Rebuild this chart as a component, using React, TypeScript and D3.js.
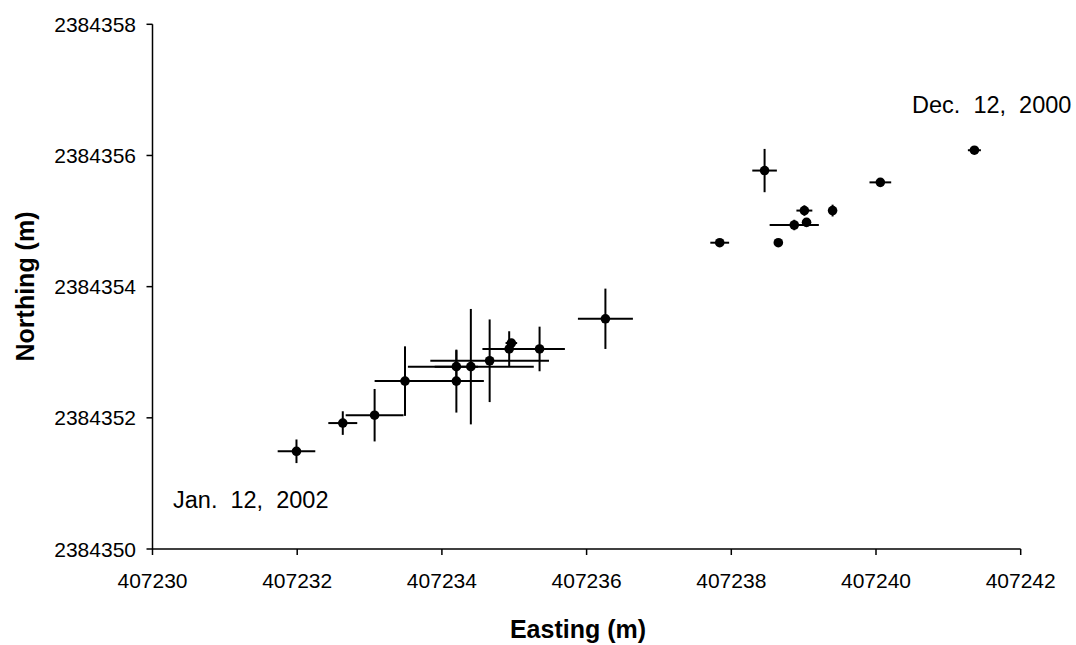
import React from "react";
import * as d3 from "d3";

// GPS positions (m)
const easting = [
  407241.36, 407240.06, 407239.40, 407239.01, 407239.04, 407238.87, 407238.65,
  407237.84, 407238.46, 407236.26, 407235.35, 407234.96, 407234.93, 407234.66,
  407234.40, 407234.20, 407234.20, 407233.49, 407233.07, 407232.63, 407231.99,
];
const northing = [
  2384356.08, 2384355.59, 2384355.16, 2384355.16, 2384354.98, 2384354.94, 2384354.67,
  2384354.67, 2384355.77, 2384353.51, 2384353.05, 2384353.14, 2384353.05, 2384352.87,
  2384352.78, 2384352.78, 2384352.56, 2384352.56, 2384352.04, 2384351.92, 2384351.49,
];
const eastErr = [
  0.09, 0.15, 0.05, 0.11, 0, 0.34, 0,
  0.13, 0.17, 0.38, 0.35, 0.08, 0.37, 0.82,
  0.87, 0.3, 0.38, 0.42, 0.4, 0.2, 0.26,
];
const northErr = [
  0.04, 0, 0.09, 0.08, 0, 0.08, 0,
  0, 0.33, 0.46, 0.34, 0.05, 0.27, 0.63,
  0.88, 0.25, 0.48, 0.53, 0.4, 0.18, 0.18,
];

const xTicks = [407230, 407232, 407234, 407236, 407238, 407240, 407242];
const yTicks = [2384350, 2384352, 2384354, 2384356, 2384358];

const firstLabel = "Dec.  12,  2000";
const lastLabel = "Jan.  12,  2002";

const font = "'Liberation Sans', Arial, sans-serif";

export default function App() {
  const left = 152.5, right = 1020.7, top = 24.3, bottom = 549;

  const x = d3.scaleLinear().domain([407230, 407242]).range([left, right]);
  const y = d3.scaleLinear().domain([2384350, 2384358]).range([bottom, top]);

  const points = easting.map((e, i) => ({
    e, n: northing[i], ex: eastErr[i], ny: northErr[i],
  }));

  return (
    <svg width={1076} height={645} style={{ position: "absolute", left: 0, top: 0, background: "#fff" }}>
      {/* error bars */}
      <g stroke="#000" strokeWidth={2}>
        {points.map((d, i) => (
          <g key={i}>
            {d.ex > 0 && <line x1={x(d.e - d.ex)} x2={x(d.e + d.ex)} y1={y(d.n)} y2={y(d.n)} />}
            {d.ny > 0 && <line x1={x(d.e)} x2={x(d.e)} y1={y(d.n - d.ny)} y2={y(d.n + d.ny)} />}
          </g>
        ))}
      </g>
      {/* points */}
      <g fill="#000">
        {points.map((d, i) => (
          <circle key={i} cx={x(d.e)} cy={y(d.n)} r={4.8} />
        ))}
      </g>

      {/* axes */}
      <g stroke="#000" strokeWidth={1.5} fill="none">
        <line x1={left} x2={left} y1={top} y2={bottom} />
        <line x1={left} x2={right} y1={bottom} y2={bottom} />
        {yTicks.map((t) => (
          <line key={t} x1={left - 6} x2={left} y1={y(t)} y2={y(t)} />
        ))}
        {xTicks.map((t) => (
          <line key={t} x1={x(t)} x2={x(t)} y1={bottom} y2={bottom + 6} />
        ))}
      </g>
      <g fontFamily={font} fontSize={21} fill="#000">
        {yTicks.map((t) => (
          <text key={t} x={136} y={y(t)} textAnchor="end" dominantBaseline="central">
            {t}
          </text>
        ))}
        {xTicks.map((t) => (
          <text key={t} x={x(t)} y={588.3} textAnchor="middle">
            {t}
          </text>
        ))}
      </g>

      {/* axis titles */}
      <text x={578} y={638.3} textAnchor="middle" fontFamily={font} fontSize={25} fontWeight="bold">
        Easting (m)
      </text>
      <text
        transform="translate(33.5,286.5) rotate(-90)"
        textAnchor="middle"
        fontFamily={font}
        fontSize={25}
        fontWeight="bold"
      >
        Northing (m)
      </text>

      {/* annotations */}
      <g fontFamily={font} fontSize={23.5} style={{ whiteSpace: "pre" }}>
        <text x={912} y={113.3} xmlSpace="preserve">{firstLabel}</text>
        <text x={173} y={508.3} xmlSpace="preserve">{lastLabel}</text>
      </g>
    </svg>
  );
}
